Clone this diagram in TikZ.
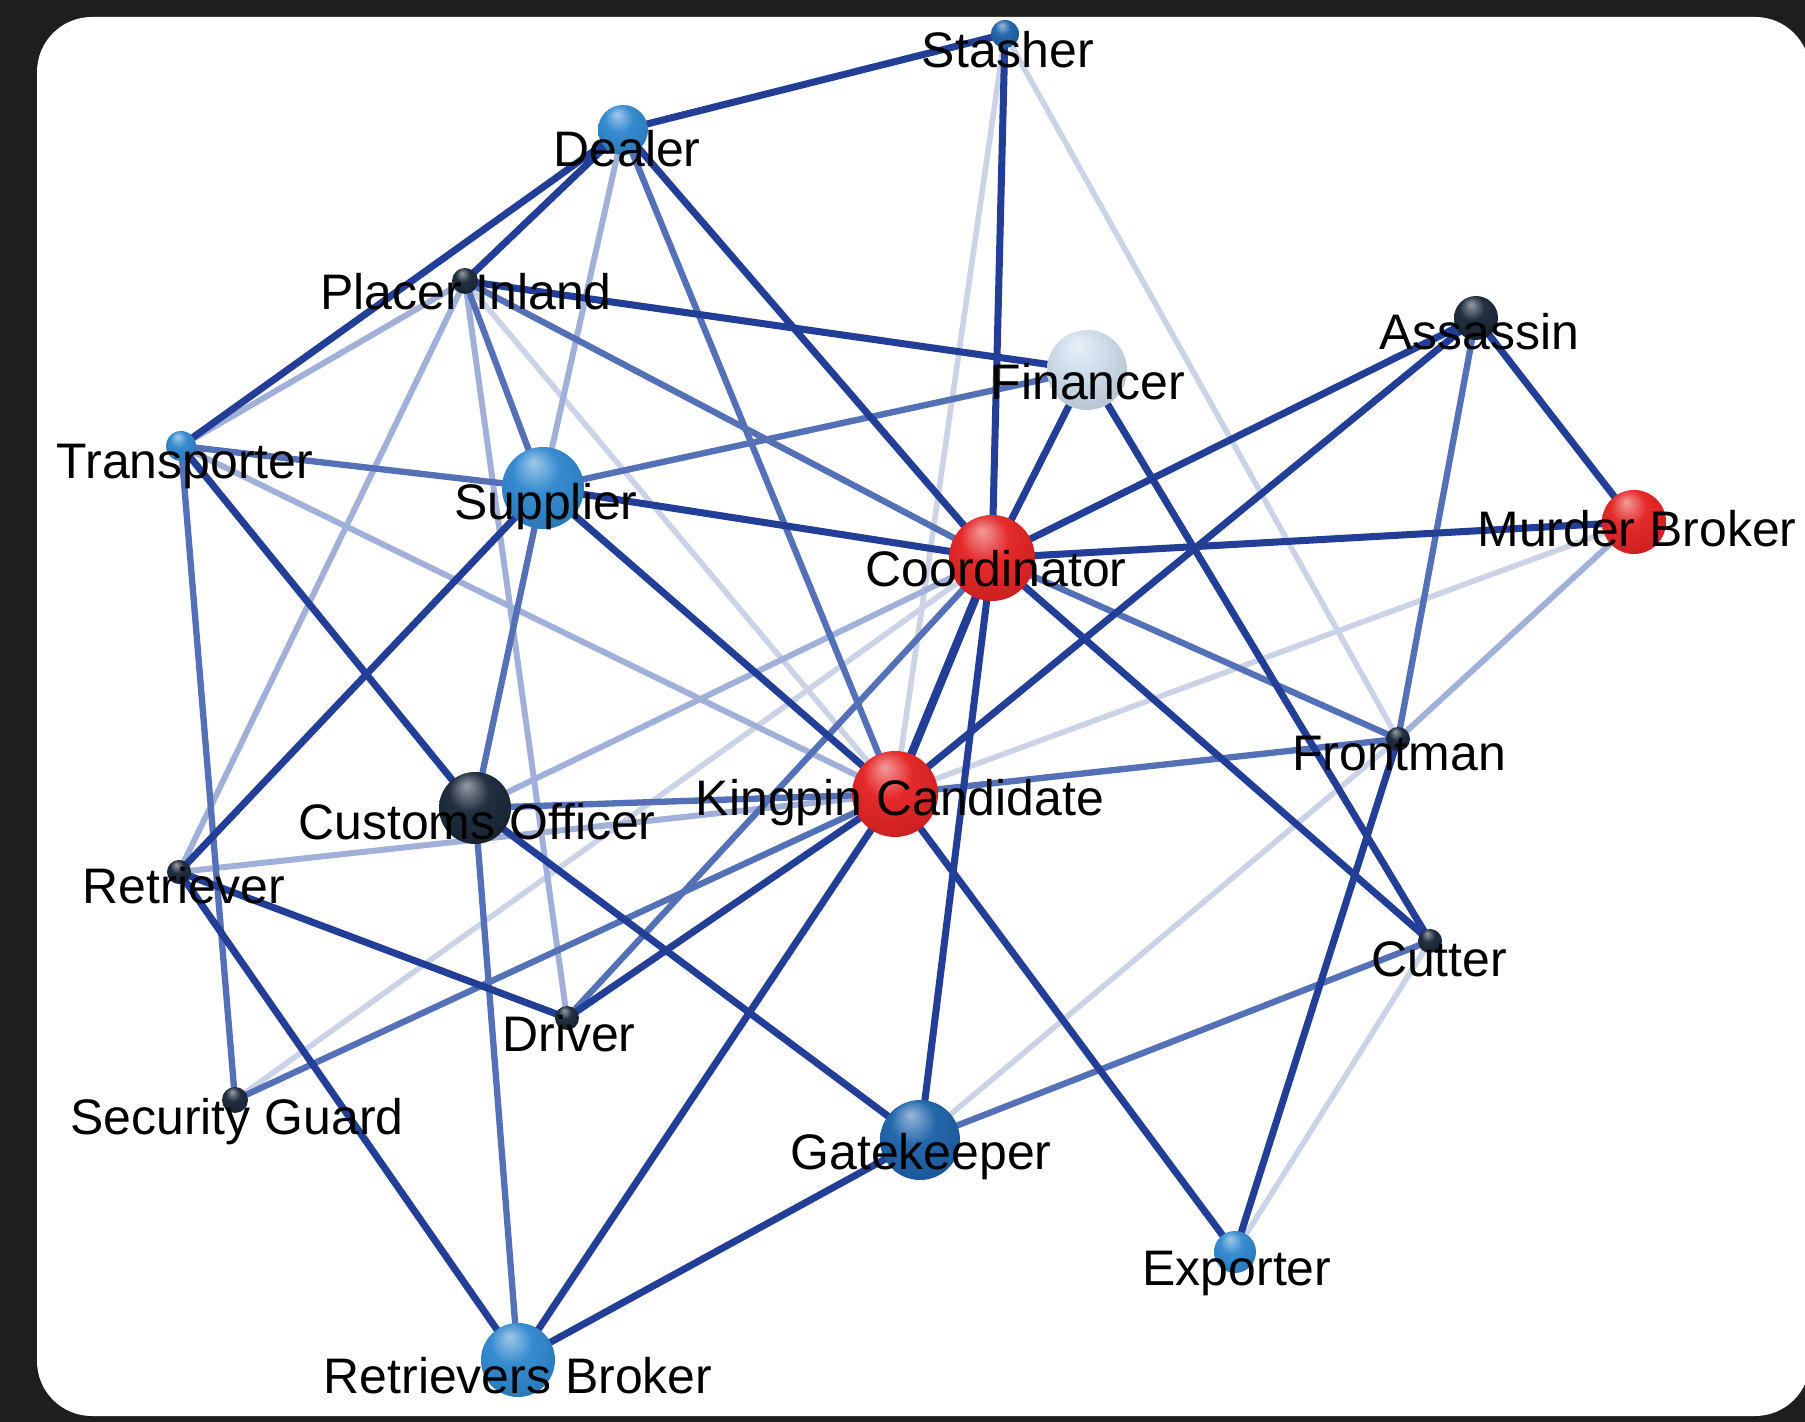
\documentclass[tikz,border=0pt]{standalone}
\usepackage{fontspec}
\setmainfont{Liberation Sans}
\definecolor{bgdark}{RGB}{30,30,30}
\definecolor{edark}{RGB}{34,62,150}
\definecolor{emed}{RGB}{84,112,182}
\definecolor{elight}{RGB}{160,176,216}
\definecolor{evlight}{RGB}{204,211,230}
\definecolor{sblue}{RGB}{44,134,206}
\definecolor{sdblue}{RGB}{26,96,168}
\definecolor{sdark}{RGB}{22,36,54}
\definecolor{sred}{RGB}{228,32,32}
\definecolor{spale}{RGB}{205,220,235}
\colorlet{sphc}{sred}
\pgfdeclareradialshading[sphc]{sph}{\pgfqpoint{-6bp}{16bp}}{%
  color(0bp)=(sphc!45!white); color(14bp)=(sphc!95!white);
  color(38bp)=(sphc!85!black); color(50bp)=(sphc!55!black)}
\tikzset{
  ed/.style={draw=edark,line width=2pt},
  em/.style={draw=emed,line width=1.8pt},
  el/.style={draw=elight,line width=1.7pt},
  ev/.style={draw=evlight,line width=1.6pt},
  sphere/.style={/utils/exec={\colorlet{sphc}{#1}},shading=sph},
  lbl/.style={anchor=base,inner sep=0pt,font=\fontsize{14.2}{17}\selectfont,text=black},
}
\begin{document}
\begin{tikzpicture}[x=0.01cm,y=-0.01cm]
\useasboundingbox (0,0) rectangle (1805,1422);
\fill[bgdark] (0,0) rectangle (1805,1422);
\begin{scope}
\clip (0,0) rectangle (1805,1422);
\fill[white,rounded corners=15.6pt] (37,17) rectangle (1810,1416);
\end{scope}
% node centres
\coordinate (st) at (1005,34);
\coordinate (de) at (623,130);
\coordinate (pl) at (465,281);
\coordinate (fi) at (1087,370);
\coordinate (ass) at (1476,318);
\coordinate (tr) at (181,446);
\coordinate (su) at (543,488);
\coordinate (co) at (992,558);
\coordinate (mb) at (1634,522);
\coordinate (fr) at (1398,739);
\coordinate (ki) at (895,794);
\coordinate (cu) at (475,808);
\coordinate (re) at (179,872);
\coordinate (ct) at (1430,941);
\coordinate (dr) at (567,1018);
\coordinate (sg) at (235,1100);
\coordinate (ga) at (920,1140);
\coordinate (ex) at (1235,1252);
\coordinate (rb) at (518,1360);
% very light edges
\draw[ev] (st) -- (ki);
\draw[ev] (st) -- (fr);
\draw[ev] (mb) -- (ki);
\draw[ev] (fr) -- (ga);
\draw[ev] (ct) -- (ex);
\draw[ev] (sg) -- (co);
\draw[ev] (pl) -- (ki);
% light edges
\draw[el] (de) -- (su);
\draw[el] (pl) -- (tr);
\draw[el] (pl) -- (re);
\draw[el] (pl) -- (dr);
\draw[el] (mb) -- (fr);
\draw[el] (co) -- (cu);
\draw[el] (tr) -- (ki);
\draw[el] (re) -- (ki);
% medium edges
\draw[em] (de) -- (ki);
\draw[em] (pl) -- (co);
\draw[em] (pl) -- (su);
\draw[em] (tr) -- (su);
\draw[em] (su) -- (fi);
\draw[em] (tr) -- (sg);
\draw[em] (su) -- (cu);
\draw[em] (cu) -- (ki);
\draw[em] (cu) -- (rb);
\draw[em] (co) -- (fr);
\draw[em] (ki) -- (fr);
\draw[em] (ass) -- (fr);
\draw[em] (sg) -- (ki);
\draw[em] (dr) -- (co);
\draw[em] (ct) -- (ga);
% dark edges
\draw[ed] (de) -- (st);
\draw[ed] (de) -- (tr);
\draw[ed] (de) -- (pl);
\draw[ed] (st) -- (co);
\draw[ed] (de) -- (co);
\draw[ed] (pl) -- (fi);
\draw[ed] (su) -- (co);
\draw[ed] (fi) -- (co);
\draw[ed] (ass) -- (co);
\draw[ed] (mb) -- (co);
\draw[ed,line width=2.4pt] (co) -- (ki);
\draw[ed] (co) -- (ct);
\draw[ed] (co) -- (ga);
\draw[ed] (ass) -- (ki);
\draw[ed] (fi) -- (ct);
\draw[ed] (su) -- (ki);
\draw[ed] (su) -- (re);
\draw[ed] (tr) -- (cu);
\draw[ed] (cu) -- (ga);
\draw[ed] (re) -- (dr);
\draw[ed] (re) -- (rb);
\draw[ed] (ki) -- (rb);
\draw[ed] (ki) -- (dr);
\draw[ed] (ki) -- (ex);
\draw[ed] (ga) -- (rb);
\draw[ed] (fr) -- (ex);
\draw[ed] (ass) -- (mb);
% spheres
\shade[sphere=sdblue] (st) circle (14);
\shade[sphere=sblue] (de) circle (25);
\shade[sphere=sdark] (pl) circle (13);
\shade[sphere=spale] (fi) circle (40);
\shade[sphere=sdark] (ass) circle (22);
\shade[sphere=sblue] (tr) circle (15);
\shade[sphere=sblue] (su) circle (41);
\shade[sphere=sred] (co) circle (43);
\shade[sphere=sred] (mb) circle (32);
\shade[sphere=sdark] (fr) circle (12);
\shade[sphere=sred] (ki) circle (43);
\shade[sphere=sdark] (cu) circle (36);
\shade[sphere=sdark] (re) circle (12);
\shade[sphere=sdark] (ct) circle (12);
\shade[sphere=sdark] (dr) circle (12);
\shade[sphere=sdark] (sg) circle (13);
\shade[sphere=sdblue] (ga) circle (40);
\shade[sphere=sblue] (ex) circle (21);
\shade[sphere=sblue] (rb) circle (37);
% labels
\node[lbl] (st-l) at (1008,68) {Stasher};
\node[lbl] (de-l) at (627,167) {Dealer};
\node[lbl] (pl-l) at (466,310) {Placer Inland};
\node[lbl] (fi-l) at (1088,400) {Financer};
\node[lbl] (ass-l) at (1479,350) {Assassin};
\node[lbl] (tr-l) at (185,479) {Transporter};
\node[lbl] (su-l) at (546,520) {Supplier};
\node[lbl] (co-l) at (996,587) {Coordinator};
\node[lbl] (mb-l) at (1637,547) {Murder Broker};
\node[lbl] (fr-l) at (1399,771) {Frontman};
\node[lbl] (ki-l) at (900,816) {Kingpin Candidate};
\node[lbl] (cu-l) at (477,840) {Customs Officer};
\node[lbl] (re-l) at (184,904) {Retriever};
\node[lbl] (ct-l) at (1439,977) {Cutter};
\node[lbl] (dr-l) at (569,1052) {Driver};
\node[lbl] (sg-l) at (237,1135) {Security Guard};
\node[lbl] (ga-l) at (921,1170) {Gatekeeper};
\node[lbl] (ex-l) at (1237,1286) {Exporter};
\node[lbl] (rb-l) at (518,1393) {Retrievers Broker};
\end{tikzpicture}
\end{document}
